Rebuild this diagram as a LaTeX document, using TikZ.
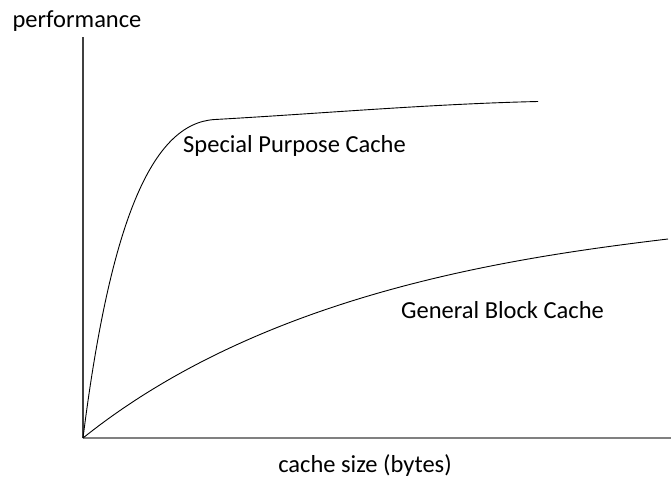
\documentclass[tikz,border=0pt]{standalone}
\usepackage{fontspec}
\setmainfont{Carlito}
\begin{document}
\begin{tikzpicture}[x=1pt,y=-1pt,
  lbl/.style={font=\fontsize{24.5}{29}\selectfont, inner sep=0pt, anchor=base},
  curve/.style={line width=0.9pt, black},
  yaxis/.style={line width=1.2pt, black!75},
  xaxis/.style={line width=1.8pt, black!50}]
\useasboundingbox (0,0) rectangle (671,481);
\coordinate (O) at (83,438);
\coordinate (ytop) at (83,37);
\coordinate (xend) at (671,438);
\coordinate (sknee) at (215,119.5);
\coordinate (send) at (538,101.5);
\coordinate (gend) at (668,239);
\draw[xaxis] (O) -- (xend);
\draw[yaxis] (O) -- (ytop);
\draw[curve] (O) .. controls (110,224) and (151,123) .. (sknee) .. controls (320,113.6) and (430,104) .. (send);
\draw[curve] (O) .. controls (263,294) and (508,258.2) .. (gend);
\node[lbl] (perf) at (77,28) {performance};
\node[lbl] (spc) at (294.5,153) {Special Purpose Cache};
\node[lbl] (gbc) at (502.5,318) {General Block Cache};
\node[lbl] (cs) at (365,472) {cache size (bytes)};
\end{tikzpicture}
\end{document}
